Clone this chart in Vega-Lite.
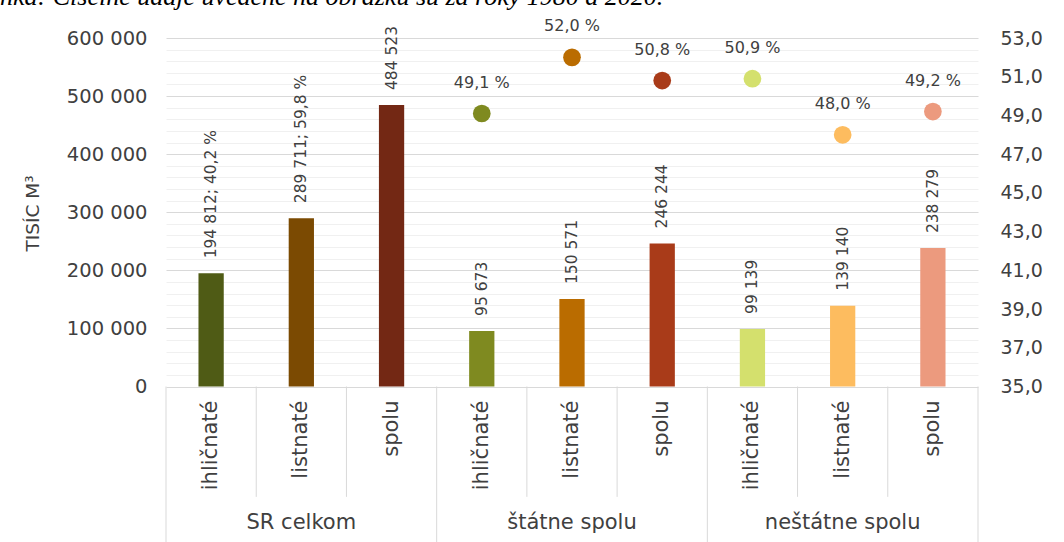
{
  "$schema": "https://vega.github.io/schema/vega-lite/v6.json",
  "width": 812,
  "height": 504,
  "autosize": {"type": "none"},
  "padding": {"left": 166, "top": 38, "right": 86, "bottom": 0},
  "background": "white",
  "title": {
    "text": "nka: Číselné údaje uvedené na obrázku sú za roky 1980 a 2020.",
    "anchor": "start",
    "frame": "group",
    "orient": "top",
    "offset": 0,
    "baseline": "alphabetic",
    "dx": -166,
    "dy": 13,
    "font": "Liberation Serif",
    "fontStyle": "italic",
    "fontWeight": "normal",
    "fontSize": 26,
    "color": "#000000"
  },
  "config": {
    "font": "DejaVu Sans",
    "view": {"stroke": null},
    "axisLeft": {
      "titleFontSize": 18.5, "titleFontWeight": "normal", "titleColor": "#404040",
      "titleAngle": 270, "titleAlign": "center", "titleBaseline": "middle",
      "titleX": -134, "titleY": 175,
      "labelFontSize": 19.5, "labelColor": "#404040", "labelPadding": 19,
      "ticks": false, "domain": false, "grid": true,
      "gridColor": {"condition": {"test": "datum.value % 100000 === 0", "value": "#d9d9d9"}, "value": "#f0f0f0"},
      "gridWidth": 1
    },
    "axisRight": {
      "labelFontSize": 19, "labelColor": "#404040", "labelPadding": 22,
      "ticks": false, "domain": false, "grid": false
    }
  },
  "data": {
    "values": [
      {"kat": "SR celkom / ihličnaté", "skupina": "SR celkom", "druh": "ihličnaté", "hodnota": 194812, "podiel": 40.2, "popis": "194 812; 40,2 %", "podiel_popis": "40,2 %"},
      {"kat": "SR celkom / listnaté", "skupina": "SR celkom", "druh": "listnaté", "hodnota": 289711, "podiel": 59.8, "popis": "289 711; 59,8 %", "podiel_popis": "59,8 %"},
      {"kat": "SR celkom / spolu", "skupina": "SR celkom", "druh": "spolu", "hodnota": 484523, "podiel": null, "popis": "484 523", "podiel_popis": ""},
      {"kat": "štátne spolu / ihličnaté", "skupina": "štátne spolu", "druh": "ihličnaté", "hodnota": 95673, "podiel": 49.1, "popis": "95 673", "podiel_popis": "49,1 %"},
      {"kat": "štátne spolu / listnaté", "skupina": "štátne spolu", "druh": "listnaté", "hodnota": 150571, "podiel": 52.0, "popis": "150 571", "podiel_popis": "52,0 %"},
      {"kat": "štátne spolu / spolu", "skupina": "štátne spolu", "druh": "spolu", "hodnota": 246244, "podiel": 50.8, "popis": "246 244", "podiel_popis": "50,8 %"},
      {"kat": "neštátne spolu / ihličnaté", "skupina": "neštátne spolu", "druh": "ihličnaté", "hodnota": 99139, "podiel": 50.9, "popis": "99 139", "podiel_popis": "50,9 %"},
      {"kat": "neštátne spolu / listnaté", "skupina": "neštátne spolu", "druh": "listnaté", "hodnota": 139140, "podiel": 48.0, "popis": "139 140", "podiel_popis": "48,0 %"},
      {"kat": "neštátne spolu / spolu", "skupina": "neštátne spolu", "druh": "spolu", "hodnota": 238279, "podiel": 49.2, "popis": "238 279", "podiel_popis": "49,2 %"}
    ]
  },
  "layer": [
    {
      "layer": [
        {
          "mark": {"type": "bar", "width": {"band": 0.28}},
          "encoding": {
            "x": {"field": "kat", "type": "nominal", "axis": null,
                  "scale": {"domain": ["SR celkom / ihličnaté", "SR celkom / listnaté", "SR celkom / spolu", "štátne spolu / ihličnaté", "štátne spolu / listnaté", "štátne spolu / spolu", "neštátne spolu / ihličnaté", "neštátne spolu / listnaté", "neštátne spolu / spolu"], "paddingInner": 0, "paddingOuter": 0}},
            "y": {"field": "hodnota", "type": "quantitative",
                  "scale": {"domain": [-267700, 600000], "nice": false, "zero": false},
                  "axis": {"title": "TISÍC M³", "values": [0, 20000, 40000, 60000, 80000, 100000, 120000, 140000, 160000, 180000, 200000, 220000, 240000, 260000, 280000, 300000, 320000, 340000, 360000, 380000, 400000, 420000, 440000, 460000, 480000, 500000, 520000, 540000, 560000, 580000, 600000], "labelExpr": "datum.value % 100000 === 0 ? (datum.value === 0 ? '0' : format(datum.value / 1000, 'd') + ' 000') : ''"}},
            "y2": {"datum": 0},
            "color": {"field": "kat", "type": "nominal", "legend": null,
                      "scale": {"domain": ["SR celkom / ihličnaté", "SR celkom / listnaté", "SR celkom / spolu", "štátne spolu / ihličnaté", "štátne spolu / listnaté", "štátne spolu / spolu", "neštátne spolu / ihličnaté", "neštátne spolu / listnaté", "neštátne spolu / spolu"],
                                "range": ["#4f5b15", "#7b4a02", "#732814", "#7f8a20", "#ba6c00", "#a93b19", "#d4e06d", "#fdbc5f", "#ec9a7e"]}}
          }
        },
        {
          "mark": {"type": "text", "angle": 270, "align": "left", "baseline": "middle", "dx": 15, "fontSize": 15.5, "color": "#404040"},
          "encoding": {
            "x": {"field": "kat", "type": "nominal", "axis": null,
                  "scale": {"domain": ["SR celkom / ihličnaté", "SR celkom / listnaté", "SR celkom / spolu", "štátne spolu / ihličnaté", "štátne spolu / listnaté", "štátne spolu / spolu", "neštátne spolu / ihličnaté", "neštátne spolu / listnaté", "neštátne spolu / spolu"], "paddingInner": 0, "paddingOuter": 0}},
            "y": {"field": "hodnota", "type": "quantitative",
                  "scale": {"domain": [-267700, 600000], "nice": false, "zero": false},
                  "axis": {"title": "TISÍC M³", "values": [0, 20000, 40000, 60000, 80000, 100000, 120000, 140000, 160000, 180000, 200000, 220000, 240000, 260000, 280000, 300000, 320000, 340000, 360000, 380000, 400000, 420000, 440000, 460000, 480000, 500000, 520000, 540000, 560000, 580000, 600000], "labelExpr": "datum.value % 100000 === 0 ? (datum.value === 0 ? '0' : format(datum.value / 1000, 'd') + ' 000') : ''"}},
            "text": {"field": "popis"}
          }
        },
        {
          "mark": {"type": "text", "angle": 270, "align": "right", "baseline": "middle", "dx": -14, "fontSize": 21, "color": "#404040"},
          "encoding": {
            "x": {"field": "kat", "type": "nominal", "axis": null,
                  "scale": {"domain": ["SR celkom / ihličnaté", "SR celkom / listnaté", "SR celkom / spolu", "štátne spolu / ihličnaté", "štátne spolu / listnaté", "štátne spolu / spolu", "neštátne spolu / ihličnaté", "neštátne spolu / listnaté", "neštátne spolu / spolu"], "paddingInner": 0, "paddingOuter": 0}},
            "y": {"datum": 0, "type": "quantitative",
                  "scale": {"domain": [-267700, 600000], "nice": false, "zero": false},
                  "axis": {"title": "TISÍC M³", "values": [0, 20000, 40000, 60000, 80000, 100000, 120000, 140000, 160000, 180000, 200000, 220000, 240000, 260000, 280000, 300000, 320000, 340000, 360000, 380000, 400000, 420000, 440000, 460000, 480000, 500000, 520000, 540000, 560000, 580000, 600000], "labelExpr": "datum.value % 100000 === 0 ? (datum.value === 0 ? '0' : format(datum.value / 1000, 'd') + ' 000') : ''"}},
            "text": {"field": "druh"}
          }
        },
        {
          "transform": [{"filter": "datum.druh === 'listnaté'"}],
          "mark": {"type": "text", "align": "center", "baseline": "middle", "dy": 136, "fontSize": 21, "color": "#404040"},
          "encoding": {
            "x": {"field": "kat", "type": "nominal", "axis": null,
                  "scale": {"domain": ["SR celkom / ihličnaté", "SR celkom / listnaté", "SR celkom / spolu", "štátne spolu / ihličnaté", "štátne spolu / listnaté", "štátne spolu / spolu", "neštátne spolu / ihličnaté", "neštátne spolu / listnaté", "neštátne spolu / spolu"], "paddingInner": 0, "paddingOuter": 0}},
            "y": {"datum": 0, "type": "quantitative",
                  "scale": {"domain": [-267700, 600000], "nice": false, "zero": false},
                  "axis": {"title": "TISÍC M³", "values": [0, 20000, 40000, 60000, 80000, 100000, 120000, 140000, 160000, 180000, 200000, 220000, 240000, 260000, 280000, 300000, 320000, 340000, 360000, 380000, 400000, 420000, 440000, 460000, 480000, 500000, 520000, 540000, 560000, 580000, 600000], "labelExpr": "datum.value % 100000 === 0 ? (datum.value === 0 ? '0' : format(datum.value / 1000, 'd') + ' 000') : ''"}},
            "text": {"field": "skupina"}
          }
        },
        {
          "transform": [{"filter": "datum.druh !== 'ihličnaté'"}],
          "mark": {"type": "rule", "color": "#d9d9d9", "strokeWidth": 1},
          "encoding": {
            "x": {"field": "kat", "type": "nominal", "axis": null, "bandPosition": 0,
                  "scale": {"domain": ["SR celkom / ihličnaté", "SR celkom / listnaté", "SR celkom / spolu", "štátne spolu / ihličnaté", "štátne spolu / listnaté", "štátne spolu / spolu", "neštátne spolu / ihličnaté", "neštátne spolu / listnaté", "neštátne spolu / spolu"], "paddingInner": 0, "paddingOuter": 0}},
            "y": {"datum": 0, "type": "quantitative",
                  "scale": {"domain": [-267700, 600000], "nice": false, "zero": false},
                  "axis": {"title": "TISÍC M³", "values": [0, 20000, 40000, 60000, 80000, 100000, 120000, 140000, 160000, 180000, 200000, 220000, 240000, 260000, 280000, 300000, 320000, 340000, 360000, 380000, 400000, 420000, 440000, 460000, 480000, 500000, 520000, 540000, 560000, 580000, 600000], "labelExpr": "datum.value % 100000 === 0 ? (datum.value === 0 ? '0' : format(datum.value / 1000, 'd') + ' 000') : ''"}},
            "y2": {"datum": -190000}
          }
        },
        {
          "transform": [{"filter": "datum.druh === 'ihličnaté'"}],
          "mark": {"type": "rule", "color": "#d9d9d9", "strokeWidth": 1},
          "encoding": {
            "x": {"field": "kat", "type": "nominal", "axis": null, "bandPosition": 0,
                  "scale": {"domain": ["SR celkom / ihličnaté", "SR celkom / listnaté", "SR celkom / spolu", "štátne spolu / ihličnaté", "štátne spolu / listnaté", "štátne spolu / spolu", "neštátne spolu / ihličnaté", "neštátne spolu / listnaté", "neštátne spolu / spolu"], "paddingInner": 0, "paddingOuter": 0}},
            "y": {"datum": 0, "type": "quantitative",
                  "scale": {"domain": [-267700, 600000], "nice": false, "zero": false},
                  "axis": {"title": "TISÍC M³", "values": [0, 20000, 40000, 60000, 80000, 100000, 120000, 140000, 160000, 180000, 200000, 220000, 240000, 260000, 280000, 300000, 320000, 340000, 360000, 380000, 400000, 420000, 440000, 460000, 480000, 500000, 520000, 540000, 560000, 580000, 600000], "labelExpr": "datum.value % 100000 === 0 ? (datum.value === 0 ? '0' : format(datum.value / 1000, 'd') + ' 000') : ''"}},
            "y2": {"datum": -267700}
          }
        },
        {
          "transform": [{"filter": "datum.skupina === 'neštátne spolu' && datum.druh === 'spolu'"}],
          "mark": {"type": "rule", "color": "#d9d9d9", "strokeWidth": 1},
          "encoding": {
            "x": {"field": "kat", "type": "nominal", "axis": null, "bandPosition": 1,
                  "scale": {"domain": ["SR celkom / ihličnaté", "SR celkom / listnaté", "SR celkom / spolu", "štátne spolu / ihličnaté", "štátne spolu / listnaté", "štátne spolu / spolu", "neštátne spolu / ihličnaté", "neštátne spolu / listnaté", "neštátne spolu / spolu"], "paddingInner": 0, "paddingOuter": 0}},
            "y": {"datum": 0, "type": "quantitative",
                  "scale": {"domain": [-267700, 600000], "nice": false, "zero": false},
                  "axis": {"title": "TISÍC M³", "values": [0, 20000, 40000, 60000, 80000, 100000, 120000, 140000, 160000, 180000, 200000, 220000, 240000, 260000, 280000, 300000, 320000, 340000, 360000, 380000, 400000, 420000, 440000, 460000, 480000, 500000, 520000, 540000, 560000, 580000, 600000], "labelExpr": "datum.value % 100000 === 0 ? (datum.value === 0 ? '0' : format(datum.value / 1000, 'd') + ' 000') : ''"}},
            "y2": {"datum": -267700}
          }
        }
      ]
    },
    {
      "transform": [{"filter": "datum.skupina !== 'SR celkom'"}],
      "layer": [
        {
          "mark": {"type": "circle", "size": 314, "opacity": 1},
          "encoding": {
            "x": {"field": "kat", "type": "nominal", "axis": null,
                  "scale": {"domain": ["SR celkom / ihličnaté", "SR celkom / listnaté", "SR celkom / spolu", "štátne spolu / ihličnaté", "štátne spolu / listnaté", "štátne spolu / spolu", "neštátne spolu / ihličnaté", "neštátne spolu / listnaté", "neštátne spolu / spolu"], "paddingInner": 0, "paddingOuter": 0}},
            "y": {"field": "podiel", "type": "quantitative",
                  "scale": {"domain": [26.968, 53], "nice": false, "zero": false},
                  "axis": {"orient": "right", "title": null, "values": [35, 37, 39, 41, 43, 45, 47, 49, 51, 53], "labelExpr": "replace(format(datum.value, '.1f'), '.', ',')"}},
            "color": {"field": "kat", "type": "nominal", "legend": null,
                      "scale": {"domain": ["SR celkom / ihličnaté", "SR celkom / listnaté", "SR celkom / spolu", "štátne spolu / ihličnaté", "štátne spolu / listnaté", "štátne spolu / spolu", "neštátne spolu / ihličnaté", "neštátne spolu / listnaté", "neštátne spolu / spolu"],
                                "range": ["#4f5b15", "#7b4a02", "#732814", "#7f8a20", "#ba6c00", "#a93b19", "#d4e06d", "#fdbc5f", "#ec9a7e"]}}
          }
        },
        {
          "mark": {"type": "text", "align": "center", "baseline": "middle", "dy": -31, "fontSize": 16, "color": "#404040"},
          "encoding": {
            "x": {"field": "kat", "type": "nominal", "axis": null,
                  "scale": {"domain": ["SR celkom / ihličnaté", "SR celkom / listnaté", "SR celkom / spolu", "štátne spolu / ihličnaté", "štátne spolu / listnaté", "štátne spolu / spolu", "neštátne spolu / ihličnaté", "neštátne spolu / listnaté", "neštátne spolu / spolu"], "paddingInner": 0, "paddingOuter": 0}},
            "y": {"field": "podiel", "type": "quantitative",
                  "scale": {"domain": [26.968, 53], "nice": false, "zero": false},
                  "axis": {"orient": "right", "title": null, "values": [35, 37, 39, 41, 43, 45, 47, 49, 51, 53], "labelExpr": "replace(format(datum.value, '.1f'), '.', ',')"}},
            "text": {"field": "podiel_popis"}
          }
        }
      ]
    }
  ],
  "resolve": {"scale": {"y": "independent"}}
}
